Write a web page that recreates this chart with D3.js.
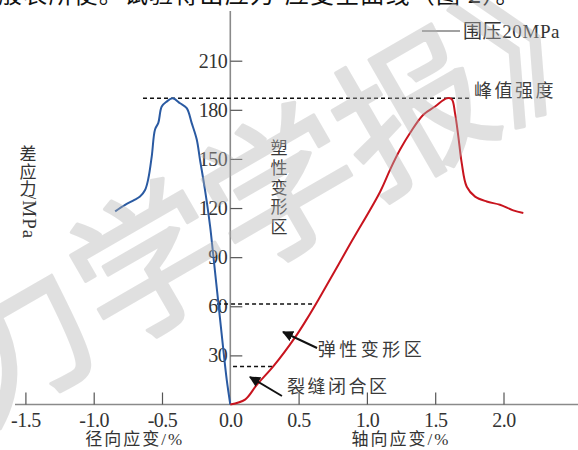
<!DOCTYPE html>
<html><head><meta charset="utf-8">
<script src="https://cdn.jsdelivr.net/npm/d3@7"></script>
<style>
html,body{margin:0;padding:0;background:#fff;overflow:hidden;}
svg{display:block;}
</style></head><body>
<svg id="chart" width="578" height="450"></svg>
<script>
// Radial strain branch (negative side), %, and differential stress, MPa
const radialStrain = [-0.843,-0.770,-0.708,-0.661,-0.624,-0.600,-0.575,-0.551,-0.527,-0.502,-0.466,-0.422,-0.368,-0.319,-0.283,-0.246,-0.222,-0.185,-0.148,-0.127,-0.090,-0.053,-0.026,0];
const radialStress = [118,122,124.7,127,131,138,151.6,168,172,182,185,187,184,181,172,162,149.6,131,109,93,64,35,15,0];
// Axial strain branch, %, and differential stress, MPa
const axialStrain = [0,0.108,0.194,0.316,0.474,0.559,0.645,0.877,1.097,1.170,1.243,1.317,1.413,1.499,1.584,1.621,1.645,1.669,1.694,1.731,1.792,1.877,1.974,2.071,2.145];
const axialStress = [0,3,12,23.4,41,52,64,98,130,143.5,155.7,166,177,182,187,186.5,178,164,147.6,133,127,124,122,118.6,117];
const xTicks = [-1.5,-1.0,-0.5,0.0,0.5,1.0,1.5,2.0];
const yTicks = [30,60,90,120,150,180,210];
const peakStress = 187;
const elasticLimit = 61.4;
const crackClosure = 23.2;
const legendLabel = "围压20MPa";

const svg = d3.select("#chart");
const serif = "'Liberation Serif','Times New Roman','Noto Sans CJK SC',serif";
const cjk = "'Liberation Serif','Noto Sans CJK SC',sans-serif";

const x = d3.scaleLinear().domain([-1.5, 2.0]).range([25.4, 503.5]);
const y = d3.scaleLinear().domain([0, 210]).range([404.5, 60.7]);

// running text of the page above the figure, clipped by the top edge
svg.append("text")
  .attr("x", -2).attr("y", 3)
  .attr("font-family", "'Noto Sans CJK SC',sans-serif")
  .attr("font-size", 24).attr("letter-spacing", 1.2)
  .attr("fill", "#111")
  .text("般表所使。试验得出应力-应变全曲线（图 2）。");

// axes lines
svg.append("line")
  .attr("x1", 15).attr("x2", 578)
  .attr("y1", y(0)).attr("y2", y(0))
  .attr("stroke", "#8a8a8a").attr("stroke-width", 1.6);
svg.append("line")
  .attr("x1", x(0)).attr("x2", x(0))
  .attr("y1", 11).attr("y2", y(0))
  .attr("stroke", "#8a8a8a").attr("stroke-width", 1.6);

// x axis ticks and labels
const xAxis = d3.axisBottom(x)
  .tickValues(xTicks)
  .tickFormat(d3.format(".1f"))
  .tickSizeInner(-12).tickSizeOuter(0).tickPadding(8);
const gx = svg.append("g").attr("transform", `translate(0,${y(0)})`).call(xAxis);
gx.select(".domain").remove();
gx.selectAll(".tick line").attr("stroke", "#555").attr("stroke-width", 1.2)
  .filter(d => d === 0).remove();
gx.selectAll(".tick text")
  .attr("font-family", serif).attr("font-size", 20).attr("letter-spacing", -0.5)
  .attr("fill", "#333").text(d => d3.format(".1f")(d).replace("−", "-"));

// y axis ticks and labels
const yAxis = d3.axisLeft(y)
  .tickValues(yTicks)
  .tickSizeInner(-12).tickSizeOuter(0).tickPadding(3);
const gy = svg.append("g").attr("transform", `translate(${x(0)},0)`).call(yAxis);
gy.select(".domain").remove();
gy.selectAll(".tick line").attr("stroke", "#555").attr("stroke-width", 1.2);
gy.selectAll(".tick text")
  .attr("font-family", serif).attr("font-size", 20).attr("letter-spacing", -0.5)
  .attr("fill", "#333");

// axis titles
svg.append("text")
  .attr("x", x(-0.7)).attr("y", 445)
  .attr("text-anchor", "middle")
  .attr("font-family", cjk).attr("font-size", 17).attr("letter-spacing", 2)
  .attr("fill", "#333").text("径向应变/%");
svg.append("text")
  .attr("x", x(1.25)).attr("y", 445)
  .attr("text-anchor", "middle")
  .attr("font-family", cjk).attr("font-size", 17).attr("letter-spacing", 2)
  .attr("fill", "#333").text("轴向应变/%");

// vertical y title: upright CJK characters followed by a rotated unit
const yTitle = svg.append("g").attr("fill", "#333");
["差", "应", "力"].forEach((c, i) => {
  yTitle.append("text")
    .attr("x", 28).attr("y", 160 + i * 17.5)
    .attr("text-anchor", "middle")
    .attr("font-family", cjk).attr("font-size", 17)
    .text(c);
});
yTitle.append("text")
  .attr("transform", "translate(23,194) rotate(90)")
  .attr("font-family", serif).attr("font-size", 19).attr("letter-spacing", 1)
  .text("/MPa");

// reference dashed lines
const dashed = [
  { v: peakStress, x0: -0.639, x1: 1.769 },
  { v: elasticLimit, x0: -0.097, x1: 0.62 },
  { v: crackClosure, x0: 0.02, x1: 0.31 }
];
svg.append("g").selectAll("line").data(dashed).join("line")
  .attr("x1", d => x(d.x0)).attr("x2", d => x(d.x1))
  .attr("y1", d => y(d.v)).attr("y2", d => y(d.v))
  .attr("stroke", "#111").attr("stroke-width", 1.5)
  .attr("stroke-dasharray", "4,3");

// stress–strain curves
const line = d3.line().x(d => x(d[0])).y(d => y(d[1])).curve(d3.curveCatmullRom.alpha(0.5));
svg.append("path")
  .datum(radialStrain.map((s, i) => [s, radialStress[i]]))
  .attr("d", line).attr("fill", "none")
  .attr("stroke", "#2a5aa2").attr("stroke-width", 2);
svg.append("path")
  .datum(axialStrain.map((s, i) => [s, axialStress[i]]))
  .attr("d", line).attr("fill", "none")
  .attr("stroke", "#c8141e").attr("stroke-width", 2);

// arrows to the deformation stages
const defs = svg.append("defs");
defs.append("marker")
  .attr("id", "head").attr("viewBox", "0 0 10 10")
  .attr("refX", 9).attr("refY", 5)
  .attr("markerWidth", 5.5).attr("markerHeight", 5.5)
  .attr("markerUnits", "strokeWidth").attr("orient", "auto")
  .append("path").attr("d", "M0,0L10,5L0,10z").attr("fill", "#111");
const arrows = [
  { from: [0.635, 34.5], to: [0.386, 44.3] },
  { from: [0.378, 5.2], to: [0.144, 16.8] }
];
svg.append("g").selectAll("line").data(arrows).join("line")
  .attr("x1", d => x(d.from[0])).attr("y1", d => y(d.from[1]))
  .attr("x2", d => x(d.to[0])).attr("y2", d => y(d.to[1]))
  .attr("stroke", "#111").attr("stroke-width", 2)
  .attr("marker-end", "url(#head)");

// stage labels
const label = (tx, ty, str, ls) => svg.append("text")
  .attr("x", tx).attr("y", ty).attr("dy", "0.35em")
  .attr("font-family", cjk).attr("font-size", 18).attr("letter-spacing", ls)
  .attr("fill", "#3a3a3a").text(str);
label(x(0.64), y(33.3), "弹性变形区", 3.5);
label(x(0.415), y(11), "裂缝闭合区", 2.5);
label(474, y(peakStress) - 8, "峰值强度", 2.5);

const plastic = svg.append("g").attr("fill", "#3a3a3a");
Array.from("塑性变形区").forEach((c, i) => {
  plastic.append("text")
    .attr("x", 279).attr("y", 148 + i * 19.8).attr("dy", "0.35em")
    .attr("text-anchor", "middle")
    .attr("font-family", cjk).attr("font-size", 17)
    .text(c);
});

// legend
svg.append("line")
  .attr("x1", 422).attr("x2", 460).attr("y1", 31).attr("y2", 31)
  .attr("stroke", "#444").attr("stroke-width", 1.2);
svg.append("text")
  .attr("x", 463).attr("y", 31).attr("dy", "0.35em")
  .attr("font-family", cjk).attr("font-size", 19).attr("letter-spacing", 0.6)
  .attr("fill", "#333").text(legendLabel);

// publisher watermark across the figure
svg.append("text")
  .attr("transform", "translate(282,190) rotate(-30)")
  .attr("text-anchor", "middle").attr("dy", "0.35em")
  .attr("font-family", "'Noto Sans CJK SC',sans-serif")
  .attr("font-weight", 400).attr("font-size", 152)
  .attr("fill", "#b4b4b4").attr("stroke", "#b4b4b4").attr("stroke-width", 3)
  .attr("stroke-linejoin", "round")
  .attr("opacity", 0.4)
  .attr("pointer-events", "none")
  .text("力学学报》");
</script>
</body></html>
